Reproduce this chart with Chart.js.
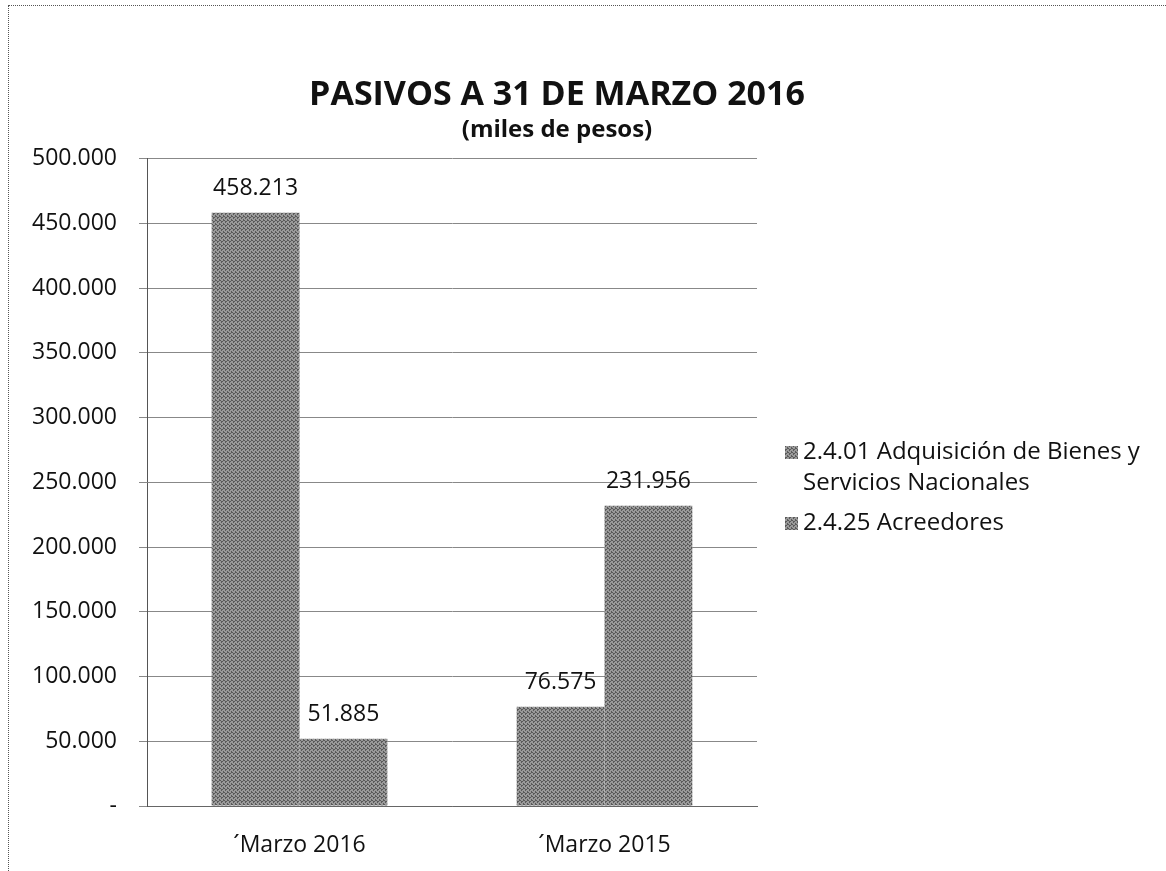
<!DOCTYPE html>
<html>
<head>
<meta charset="utf-8">
<script src="https://cdn.jsdelivr.net/npm/chart.js@4/dist/chart.umd.min.js"></script>
<style>
  html, body { margin: 0; padding: 0; background: #fff; }
  #wrap { position: relative; width: 1166px; height: 871px; }
  #frame { position: absolute; left: 8px; top: 5px; right: 0; bottom: 0;
           border-left: 1px dotted #555; border-top: 1px dotted #555; }
  canvas { position: absolute; left: 0; top: 0; }
</style>
</head>
<body>
<div id="wrap">
  <div id="frame"></div>
  <canvas id="myChart" width="1166" height="871"></canvas>
</div>
<script>
const categories = ['\u00B4Marzo 2016', '\u00B4Marzo 2015'];
const adquisicion = [458213, 76575];
const acreedores = [51885, 231956];
const legendLabels = [['2.4.01 Adquisición de Bienes y', 'Servicios Nacionales'], ['2.4.25 Acreedores']];
const yMax = 500000;
const yStep = 50000;

const FONT = "'Open Sans', sans-serif";

function miles(v) {
    if (v === 0) return '-';
    return String(v).replace(/\B(?=(\d{3})+(?!\d))/g, '.');
}

// stippled gray like the scanned print
function grayPattern() {
    const c = document.createElement('canvas');
    c.width = 4; c.height = 4;
    const g = c.getContext('2d');
    g.fillStyle = '#9a9a9a';
    g.fillRect(0, 0, 4, 4);
    g.fillStyle = '#5a5a5a';
    [[0,0],[2,1],[1,2],[3,3],[3,0],[1,1]].forEach(p => g.fillRect(p[0], p[1], 1, 1));
    return g.createPattern(c, 'repeat');
}

const ctx = document.getElementById('myChart').getContext('2d');
const fill = grayPattern();

const valueLabels = {
    id: 'valueLabels',
    afterDatasetsDraw(chart) {
        const c = chart.ctx;
        c.save();
        c.font = '23px ' + FONT;
        c.fillStyle = '#111';
        c.textAlign = 'center';
        c.textBaseline = 'middle';
        chart.data.datasets.forEach((ds, i) => {
            chart.getDatasetMeta(i).data.forEach((bar, j) => {
                c.fillText(miles(ds.data[j]), bar.x, bar.y - 24);
            });
        });
        c.restore();
    }
};

const sideLegend = {
    id: 'sideLegend',
    afterDraw(chart) {
        const c = chart.ctx;
        c.save();
        c.font = '24px ' + FONT;
        c.textBaseline = 'middle';
        let y = 452;
        legendLabels.forEach((lines) => {
            c.fillStyle = fill;
            c.fillRect(785, y - 6, 13, 13);
            c.fillStyle = '#111';
            lines.forEach((t, k) => {
                c.fillText(t, 803, y + k * 31);
            });
            y += lines.length * 31 + 9;
        });
        c.restore();
    }
};

const myChart = new Chart(ctx, {
    type: 'bar',
    data: {
        labels: categories,
        datasets: [
            {
                label: legendLabels[0].join(' '),
                data: adquisicion,
                backgroundColor: fill,
                borderWidth: 0,
                categoryPercentage: 0.576,
                barPercentage: 1
            },
            {
                label: legendLabels[1].join(' '),
                data: acreedores,
                backgroundColor: fill,
                borderWidth: 0,
                categoryPercentage: 0.576,
                barPercentage: 1
            }
        ]
    },
    options: {
        responsive: false,
        animation: false,
        layout: { padding: { top: 0, left: 0, right: 52, bottom: 3 } },
        plugins: {
            legend: { display: false },
            tooltip: { enabled: false },
            title: {
                display: true,
                text: 'PASIVOS A 31 DE MARZO 2016',
                color: '#111',
                font: { family: FONT, size: 34, weight: 'bold', lineHeight: 1.2 },
                padding: { top: 75, bottom: 0 }
            },
            subtitle: {
                display: true,
                text: '(miles de pesos)',
                color: '#111',
                font: { family: FONT, size: 24, weight: 'bold', lineHeight: 1.2 },
                padding: { top: 0, bottom: 14 }
            }
        },
        scales: {
            x: {
                grid: { display: false },
                border: { color: '#666' },
                ticks: { color: '#111', font: { family: FONT, size: 23 }, padding: 18 },
                afterFit(s) { s.height = 62; }
            },
            y: {
                min: 0,
                max: yMax,
                ticks: {
                    stepSize: yStep,
                    color: '#111',
                    font: { family: FONT, size: 23 },
                    padding: 22,
                    callback: v => miles(v)
                },
                grid: { color: '#888', tickLength: 8 },
                border: { color: '#555' },
                afterFit(s) { s.width = 147; }
            },
            side: {
                type: 'linear',
                position: 'right',
                grid: { display: false },
                border: { display: false },
                ticks: { display: false },
                afterFit(s) { s.width = 357; }
            }
        }
    },
    plugins: [valueLabels, sideLegend]
});
</script>
</body>
</html>
